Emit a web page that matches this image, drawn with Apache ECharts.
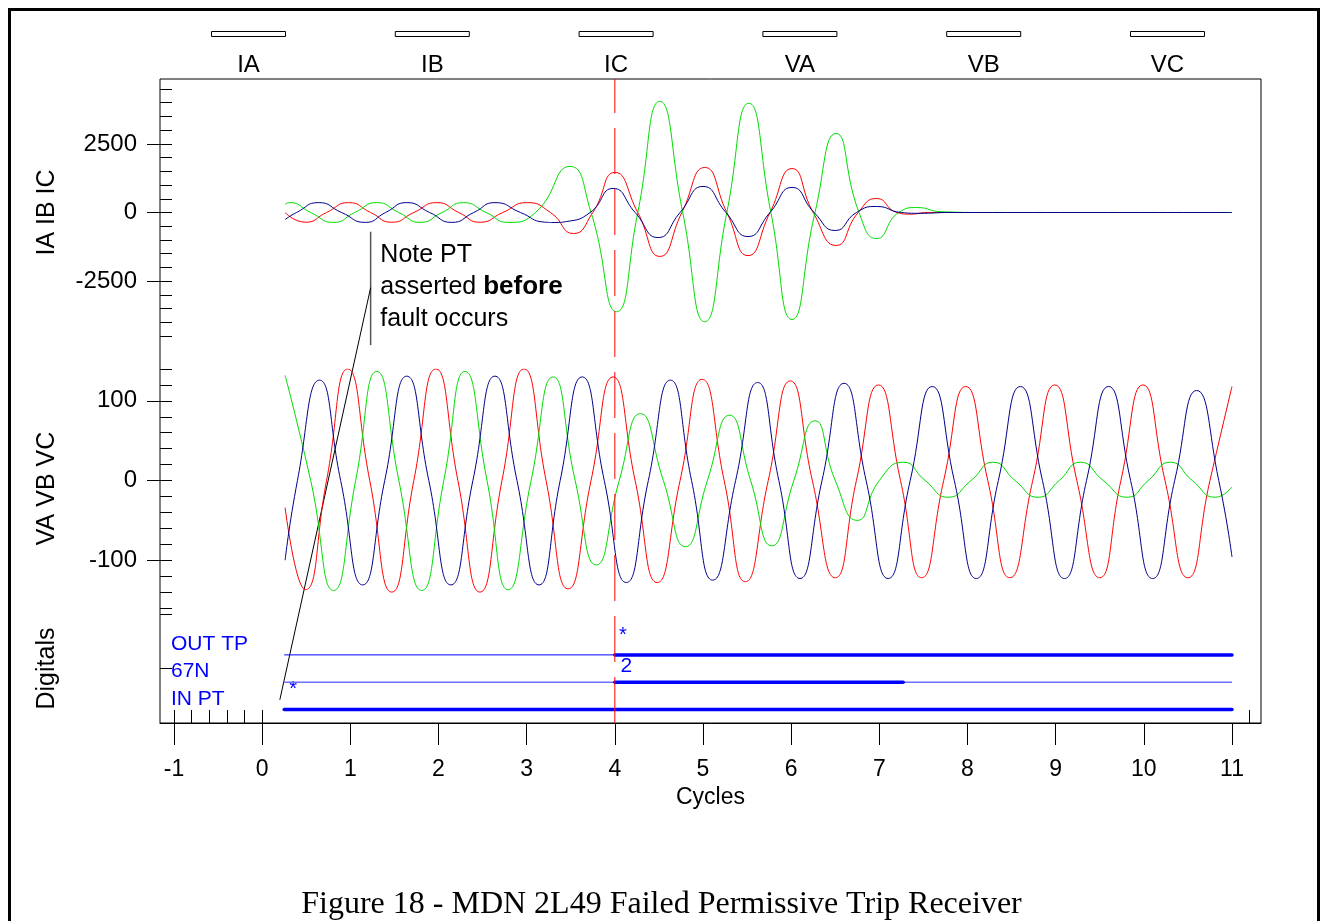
<!DOCTYPE html>
<html>
<head>
<meta charset="utf-8">
<title>MDN 2L49 Failed Permissive Trip Receiver</title>
<script src="https://cdn.jsdelivr.net/npm/echarts@6/dist/echarts.min.js"></script>
<style>
  html, body { margin: 0; padding: 0; background: #fff; }
  #chart { width: 1323px; height: 921px; }
</style>
</head>
<body>
<div id="chart"></div>
<script>
// values: [cycle, value] at peaks and zero crossings
const IA = [[0.26,0],[0.49,-355],[0.73,0],[0.98,360],[1.23,0],[1.47,-355],[1.72,0],[1.98,360],[2.23,0],[2.47,-355],[2.73,0],[3.00,360],[3.27,0],[3.53,-767],[3.75,0],[4.00,1460],[4.26,0],[4.51,-1600],[4.76,0],[5.02,1640],[5.27,0],[5.51,-1570],[5.76,0],[6.01,1600],[6.25,0],[6.51,-1200],[6.76,0],[6.97,510],[7.20,0],[7.35,-60],[7.55,0],[8.00,0],[11.00,0]];
const IB = [[0.26,300],[0.31,360],[0.55,0],[0.81,-360],[1.05,0],[1.30,360],[1.55,0],[1.79,-360],[2.04,0],[2.28,360],[2.54,0],[2.79,-360],[3.10,0],[3.49,1680],[3.73,0],[4.02,-3614],[4.26,0],[4.51,4050],[4.77,0],[5.02,-3980],[5.27,0],[5.52,3980],[5.77,0],[6.01,-3900],[6.27,0],[6.51,2880],[6.77,0],[6.97,-950],[7.22,0],[7.43,180],[7.70,30],[8.20,0],[11.00,0]];
const IC = [[0.26,-255],[0.39,0],[0.64,360],[0.90,0],[1.17,-360],[1.40,0],[1.64,360],[1.90,0],[2.15,-360],[2.40,0],[2.64,360],[2.93,0],[3.20,-350],[3.32,-365],[3.45,-330],[3.72,0],[3.98,876],[4.23,0],[4.49,-913],[4.74,0],[5.00,949],[5.26,0],[5.51,-876],[5.76,0],[6.01,913],[6.26,0],[6.50,-657],[6.74,0],[6.97,219],[7.25,0],[7.45,-30],[7.80,0],[11.00,0]];

const VA = [[0.26,-34],[0.49,-137],[0.73,0],[0.97,140],[1.22,0],[1.47,-140],[1.72,0],[1.97,140],[2.22,0],[2.47,-140],[2.72,0],[2.97,140],[3.22,0],[3.47,-136],[3.73,0],[3.98,130],[4.23,0],[4.48,-128],[4.74,0],[4.99,127],[5.24,0],[5.48,-127],[5.74,0],[5.99,125],[6.24,0],[6.50,-122],[6.74,0],[6.99,120],[7.24,0],[7.48,-122],[7.73,0],[7.98,118],[8.23,0],[8.48,-122],[8.74,0],[8.99,120],[9.24,0],[9.50,-122],[9.74,0],[9.99,120],[10.24,0],[10.50,-122],[10.75,0],[11.00,118]];
const VB = [[0.26,132],[0.55,0],[0.81,-138],[1.06,0],[1.30,137],[1.55,0],[1.81,-138],[2.06,0],[2.30,137],[2.55,0],[2.79,-137],[3.05,0],[3.30,130],[3.55,0],[3.79,-106],[4.05,0],[4.29,84],[4.55,0],[4.80,-83],[5.05,0],[5.30,82],[5.54,0],[5.78,-82],[6.03,0],[6.27,75],[6.50,0],[6.75,-50],[7.00,0],[7.27,23],[7.52,0],[7.78,-21],[8.04,0],[8.29,23],[8.54,0],[8.80,-21],[9.04,0],[9.28,23],[9.54,0],[9.81,-21],[10.05,0],[10.30,23],[10.55,0],[10.81,-21],[11.00,-8]];
const VC = [[0.26,-100],[0.40,0],[0.65,126],[0.89,0],[1.14,-131],[1.39,0],[1.64,131],[1.89,0],[2.14,-131],[2.39,0],[2.64,131],[2.89,0],[3.14,-131],[3.38,0],[3.63,130],[3.88,0],[4.13,-128],[4.38,0],[4.63,126],[4.87,0],[5.11,-125],[5.37,0],[5.62,123],[5.86,0],[6.10,-123],[6.35,0],[6.60,122],[6.85,0],[7.10,-123],[7.35,0],[7.60,118],[7.85,0],[8.10,-123],[8.35,0],[8.60,118],[8.85,0],[9.10,-123],[9.35,0],[9.60,118],[9.85,0],[10.10,-123],[10.35,0],[10.60,113],[10.85,0],[11.00,-96]];

// digital channels: [cycle, state] at each change, last entry = end of record
const DIGITAL_NAMES = ['IN PT', '67N', 'OUT TP'];
const DIGITAL_LEVELS = [0.5, 1.5, 2.5];
const IN_PT = [[0.25,1],[11,1]];
const N67 = [[0.25,0],[4.0,1],[7.27,0],[11,0]];
const OUT_TP = [[0.25,0],[4.0,1],[11,1]];

const TRIGGER_CYCLE = 4;
const X_TICKS = [-1,0,1,2,3,4,5,6,7,8,9,10,11];
const X_MINOR = [-1,-0.8,-0.6,-0.4,-0.2,0,11.2];
const I_LABELS = [-2500, 0, 2500];
const V_LABELS = [-100, 0, 100];

const RED = '#ff0000', GREEN = '#00dd00', NAVY = '#00008b', BLUE = '#0000ff';
const SANS = 'Liberation Sans, Arial, sans-serif';
const X_MIN = -1.159, X_MAX = 11.329;

let chart = echarts.init(document.getElementById('chart'));

function segments(changes, level, state) {
    let out = [];
    for (let i = 0; i < changes.length - 1; i++) {
        if (changes[i][1] === state) {
            if (out.length) out.push([changes[i][0], '-']);
            out.push([changes[i][0], level], [changes[i + 1][0], level]);
        }
    }
    return out;
}

function plain(v) { return String(v); }

function hiddenX(grid) {
    return { type: 'value', gridIndex: grid, min: X_MIN, max: X_MAX, show: false };
}
// minor ticks every interval, drawn inside the plot
function tickAxis(grid, min, max, interval) {
    return {
        type: 'value', gridIndex: grid, position: 'left', min: min, max: max, interval: interval,
        axisLine: { show: false, onZero: false }, splitLine: { show: false }, axisLabel: { show: false },
        axisTick: { show: true, inside: true, length: 12, lineStyle: { color: '#000' } }
    };
}
// major ticks sticking out, with labels and the panel title
function labelAxis(grid, min, max, labels, name) {
    return {
        type: 'value', gridIndex: grid, position: 'left', min: min, max: max,
        name: name, nameLocation: 'middle', nameRotate: 90, nameGap: 100,
        nameTextStyle: { fontSize: 25, fontFamily: SANS, color: '#000' },
        axisLine: { show: false, onZero: false }, splitLine: { show: false },
        axisTick: { show: true, customValues: labels, length: 13, lineStyle: { color: '#000' } },
        axisLabel: { customValues: labels, formatter: plain, margin: 23, fontSize: 24, fontFamily: SANS, color: '#000' }
    };
}

function analog(name, data, color, xi, yi) {
    return {
        name: name, type: 'line', xAxisIndex: xi, yAxisIndex: yi, data: data,
        smooth: 0.55, showSymbol: false, symbol: 'none', silent: true,
        lineStyle: { color: color, width: 1 }, itemStyle: { color: color }
    };
}

let series = [
    analog('IA', IA, RED, 0, 0),
    analog('IB', IB, GREEN, 0, 0),
    analog('IC', IC, NAVY, 0, 0),
    analog('VA', VA, RED, 1, 2),
    analog('VB', VB, GREEN, 1, 2),
    analog('VC', VC, NAVY, 1, 2)
];

// thin line while deasserted, thick while asserted
let offStyle = [{ color: BLUE, width: 1 }, { color: '#6e6eff', width: 1.5 }, { color: BLUE, width: 1 }];
[IN_PT, N67, OUT_TP].forEach(function (ch, i) {
    series.push({
        name: DIGITAL_NAMES[i] + ' off', type: 'line', xAxisIndex: 2, yAxisIndex: 4,
        data: segments(ch, DIGITAL_LEVELS[i], 0), symbol: 'none', silent: true,
        lineStyle: offStyle[i]
    });
    series.push({
        name: DIGITAL_NAMES[i], type: 'line', xAxisIndex: 2, yAxisIndex: 4,
        data: segments(ch, DIGITAL_LEVELS[i], 1), symbol: 'none', silent: true,
        lineStyle: { color: BLUE, width: 3.5, cap: 'round' }
    });
});

// trigger cursor across the whole plot box (grid 3 spans the full box, y 0..1)
series.push({
    name: 'trigger', type: 'line', xAxisIndex: 4, yAxisIndex: 6,
    data: [[TRIGGER_CYCLE, 0], [TRIGGER_CYCLE, 1]], symbol: 'none', silent: true, z: 5,
    itemStyle: { color: RED },
    lineStyle: { color: RED, width: 1, type: [46, 15] }
});

let option = {
    animation: false,
    backgroundColor: '#fff',
    title: {
        text: 'Figure 18 - MDN 2L49 Failed Permissive Trip Receiver',
        left: 'center', top: 884,
        textStyle: { fontFamily: 'Liberation Serif, Times New Roman, serif', fontSize: 32, fontWeight: 'normal', color: '#000' }
    },
    legend: {
        data: ['IA', 'IB', 'IC', 'VA', 'VB', 'VC'],
        left: 206, top: 26, itemWidth: 74, itemHeight: 5, itemGap: 108.8,
        icon: 'rect', selectedMode: false,
        itemStyle: { color: '#fff', borderColor: '#000', borderWidth: 1 },
        formatter: '{n|{name}}',
        textStyle: {
            padding: [62, 0, 0, -79],
            rich: { n: { width: 74, align: 'center', fontSize: 24, fontFamily: SANS, color: '#000' } }
        }
    },
    grid: [
        { left: 160, right: 62, top: 89, height: 247, outerBoundsMode: 'none' },
        { left: 160, right: 62, top: 369, height: 239, outerBoundsMode: 'none' },
        { left: 160, right: 62, top: 614, height: 109, outerBoundsMode: 'none' },
        { left: 160, right: 62, top: 79, height: 644, outerBoundsMode: 'none', show: true, borderColor: '#000', borderWidth: 1, backgroundColor: 'transparent' }
    ],
    xAxis: [
        hiddenX(0),
        hiddenX(1),
        {
            type: 'value', gridIndex: 2, position: 'bottom', min: X_MIN, max: X_MAX,
            name: 'Cycles', nameLocation: 'middle', nameGap: 63,
            nameTextStyle: { fontSize: 23, fontFamily: SANS, color: '#000' },
            axisLine: { show: true, onZero: false, lineStyle: { color: '#000' } },
            splitLine: { show: false },
            axisTick: { show: true, customValues: X_TICKS, length: 22, lineStyle: { color: '#000' } },
            axisLabel: { customValues: X_TICKS, formatter: plain, margin: 35, fontSize: 23, fontFamily: SANS, color: '#000' }
        },
        {
            type: 'value', gridIndex: 2, position: 'bottom', min: X_MIN, max: X_MAX,
            axisLine: { show: false, onZero: false }, splitLine: { show: false }, axisLabel: { show: false },
            axisTick: { show: true, inside: true, customValues: X_MINOR, length: 13, lineStyle: { color: '#000' } }
        },
        hiddenX(3)
    ],
    yAxis: [
        tickAxis(0, -4500, 4500, 500),
        labelAxis(0, -4500, 4500, I_LABELS, 'IA IB IC'),
        tickAxis(1, -160, 140, 20),
        labelAxis(1, -160, 140, V_LABELS, 'VA VB VC'),
        tickAxis(2, 0, 4, 2),
        {
            type: 'value', gridIndex: 2, position: 'left', min: 0, max: 4,
            name: 'Digitals', nameLocation: 'middle', nameRotate: 90, nameGap: 100,
            nameTextStyle: { fontSize: 25, fontFamily: SANS, color: '#000' },
            axisLine: { show: false, onZero: false }, splitLine: { show: false }, axisTick: { show: false },
            axisLabel: {
                customValues: DIGITAL_LEVELS, inside: true, margin: 11,
                verticalAlign: 'bottom', padding: [0, 0, 0, 0],
                fontSize: 21, fontFamily: SANS, color: BLUE,
                formatter: function (v) { return DIGITAL_NAMES[DIGITAL_LEVELS.indexOf(v)]; }
            }
        },
        { type: 'value', gridIndex: 3, min: 0, max: 1, show: false }
    ],
    series: series
};

chart.setOption(option);

// annotation and cursor marks, placed in data coordinates
let iPt = function (p) { return chart.convertToPixel({ xAxisIndex: 0, yAxisIndex: 0 }, p); };
let vPt = function (p) { return chart.convertToPixel({ xAxisIndex: 1, yAxisIndex: 2 }, p); };
let dPt = function (p) { return chart.convertToPixel({ xAxisIndex: 2, yAxisIndex: 4 }, p); };

let barTop = iPt([1.23, -700]);
let barBot = vPt([1.23, 170]);
let leadA = iPt([1.23, -2740]);
let leadB = dPt([0.20, 0.85]);
let noteAt = iPt([1.34, -960]);
let star1 = dPt([0.35, 0.5]);
let star2 = dPt([4.09, 2.5]);
let two = dPt([4.13, 1.5]);

chart.setOption({
    graphic: [
        { type: 'rect', shape: { x: 9.5, y: 9.5, width: 1309, height: 940 }, style: { fill: 'none', stroke: '#000', lineWidth: 3 }, silent: true },
        { type: 'line', shape: { x1: barTop[0], y1: barTop[1], x2: barBot[0], y2: barBot[1] }, style: { stroke: '#555', lineWidth: 1.5 }, silent: true },
        { type: 'line', shape: { x1: leadA[0], y1: leadA[1], x2: leadB[0], y2: leadB[1] }, style: { stroke: '#000', lineWidth: 1 }, silent: true },
        {
            type: 'text', x: noteAt[0], y: noteAt[1], silent: true,
            style: {
                text: 'Note PT\nasserted {b|before}\nfault occurs',
                fill: '#000', fontSize: 25, fontFamily: SANS, lineHeight: 32,
                rich: { b: { fontWeight: 'bold', fontSize: 26, fontFamily: SANS, lineHeight: 32 } }
            }
        },
        { type: 'text', x: star1[0], y: star1[1] - 20, silent: true, style: { text: '*', fill: BLUE, fontSize: 20, fontFamily: SANS, textAlign: 'center', textVerticalAlign: 'middle' } },
        { type: 'text', x: star2[0], y: star2[1] - 19, silent: true, style: { text: '*', fill: BLUE, fontSize: 20, fontFamily: SANS, textAlign: 'center', textVerticalAlign: 'middle' } },
        { type: 'text', x: two[0], y: two[1] - 16, silent: true, style: { text: '2', fill: BLUE, fontSize: 21, fontFamily: SANS, textAlign: 'center', textVerticalAlign: 'middle' } }
    ]
});
</script>
</body>
</html>
